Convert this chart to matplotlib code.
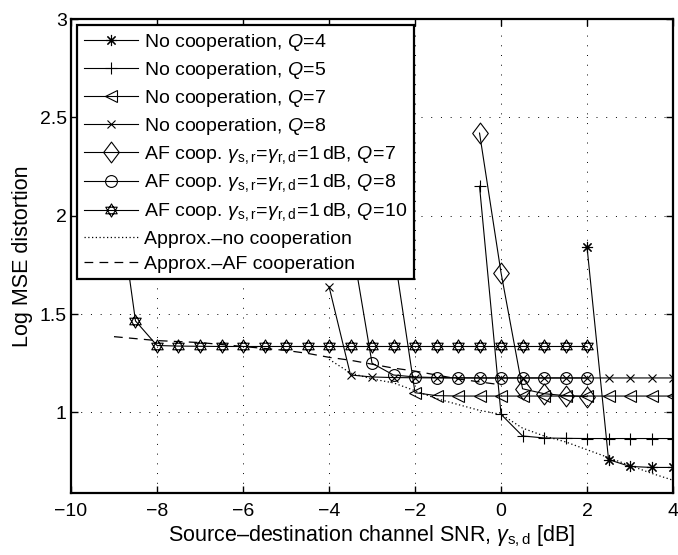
import matplotlib

matplotlib.use("Agg")
import matplotlib.pyplot as plt
from matplotlib.path import Path

plt.rcParams["font.family"] = ["Liberation Sans", "DejaVu Sans"]
plt.rcParams["mathtext.fontset"] = "custom"
plt.rcParams["mathtext.rm"] = "Liberation Sans"
plt.rcParams["mathtext.it"] = "Liberation Sans:italic"
plt.rcParams["mathtext.bf"] = "Liberation Sans:bold"

# --- data ---
x_q4 = [2, 2.5, 3, 3.5, 4]
y_q4 = [1.84, 0.76, 0.725, 0.72, 0.72]

x_q5 = [-0.5, 0, 0.5, 1, 1.5, 2, 2.5, 3, 3.5, 4]
y_q5 = [2.15, 0.99, 0.88, 0.87, 0.868, 0.867, 0.867, 0.867, 0.867, 0.867]

x_q7 = [-2.5, -2, -1.5, -1, -0.5, 0, 0.5, 1, 1.5, 2, 2.5, 3, 3.5, 4]
y_q7 = [1.83, 1.10, 1.085, 1.083, 1.083, 1.083, 1.083, 1.083, 1.083, 1.083,
        1.083, 1.083, 1.083, 1.083]

x_q8 = [-4, -3.5, -3, -2.5, -2, -1.5, -1, -0.5, 0, 0.5, 1, 1.5, 2, 2.5, 3, 3.5, 4]
y_q8 = [1.64, 1.19, 1.18, 1.177, 1.176, 1.175, 1.175, 1.175, 1.175, 1.175,
        1.175, 1.175, 1.175, 1.175, 1.175, 1.175, 1.175]

x_af7 = [-0.5, 0, 0.5, 1, 1.5, 2]
y_af7 = [2.42, 1.71, 1.12, 1.095, 1.085, 1.08]

x_af8 = [-3.5, -3, -2.5, -2, -1.5, -1, -0.5, 0, 0.5, 1, 1.5, 2]
y_af8 = [1.90, 1.25, 1.19, 1.18, 1.177, 1.176, 1.175, 1.175, 1.175, 1.175, 1.175, 1.175]

x_af10 = [-9, -8.5, -8, -7.5, -7, -6.5, -6, -5.5, -5, -4.5, -4, -3.5, -3,
          -2.5, -2, -1.5, -1, -0.5, 0, 0.5, 1, 1.5, 2]
y_af10 = [2.25, 1.465, 1.34, 1.337, 1.336, 1.335, 1.335, 1.335, 1.335, 1.335,
          1.335, 1.335, 1.335, 1.335, 1.335, 1.335, 1.335, 1.335, 1.335, 1.335,
          1.335, 1.335, 1.335]

x_apx_nc = [-4, -3.5, -3, -2.5, -2, -1.5, -1, -0.5, 0, 0.5, 1, 1.5, 2, 2.5, 3, 3.5, 4]
y_apx_nc = [1.27, 1.20, 1.17, 1.15, 1.11, 1.07, 1.04, 1.01, 0.99, 0.92, 0.88,
            0.85, 0.81, 0.77, 0.73, 0.69, 0.655]

x_apx_af = [-9, -8.5, -8, -7.5, -7, -6.5, -6, -5.5, -5, -4.5, -4, -3.5, -3,
            -2.5, -2, -1.5, -1, -0.5, 0]
y_apx_af = [1.385, 1.375, 1.365, 1.36, 1.355, 1.345, 1.335, 1.325, 1.315, 1.30,
            1.28, 1.265, 1.245, 1.225, 1.21, 1.19, 1.17, 1.155, 1.14]

labels = [
    r"No cooperation, $Q\!=\!4$",
    r"No cooperation, $Q\!=\!5$",
    r"No cooperation, $Q\!=\!7$",
    r"No cooperation, $Q\!=\!8$",
    r"AF coop. $\gamma_{\rm s,r}\!=\!\gamma_{\rm r,d}\!=\!1\,$dB, $Q\!=\!7$",
    r"AF coop. $\gamma_{\rm s,r}\!=\!\gamma_{\rm r,d}\!=\!1\,$dB, $Q\!=\!8$",
    r"AF coop. $\gamma_{\rm s,r}\!=\!\gamma_{\rm r,d}\!=\!1\,$dB, $Q\!=\!10$",
    "Approx.\u2013no cooperation",
    "Approx.\u2013AF cooperation",
]

# custom markers: star of David (two triangles) and MATLAB-like diamond
hexagram = Path(
    [(0, 1), (0.866, -0.5), (-0.866, -0.5), (0, 1),
     (0, -1), (0.866, 0.5), (-0.866, 0.5), (0, -1)],
    [Path.MOVETO, Path.LINETO, Path.LINETO, Path.CLOSEPOLY,
     Path.MOVETO, Path.LINETO, Path.LINETO, Path.CLOSEPOLY],
)
diamond = Path([(0, 1), (0.75, 0), (0, -1), (-0.75, 0), (0, 1)],
               [Path.MOVETO, Path.LINETO, Path.LINETO, Path.LINETO, Path.CLOSEPOLY])

fig = plt.figure(figsize=(6.78, 5.55), dpi=100)
ax = fig.add_axes([0.1047, 0.1117, 0.888, 0.854])

kw = dict(color="k", lw=0.8, mfc="none", mec="k", mew=0.8)
ax.plot(x_q4, y_q4, marker=(8, 2, 0), ms=8, label=labels[0], **kw)
ax.plot(x_q5, y_q5, marker="+", ms=8, label=labels[1], **kw)
ax.plot(x_q7, y_q7, marker="<", ms=9, label=labels[2], **kw)
ax.plot(x_q8, y_q8, marker="x", ms=5.5, label=labels[3], **kw)
ax.plot(x_af7, y_af7, marker=diamond, ms=15, label=labels[4], **kw)
ax.plot(x_af8, y_af8, marker="o", ms=8.5, label=labels[5], **kw)
ax.plot(x_af10, y_af10, marker=hexagram, ms=9.5, label=labels[6], **kw)
ax.plot(x_apx_nc, y_apx_nc, color="k", lw=0.9, ls=(0, (1, 2)), label=labels[7])
ax.plot(x_apx_af, y_apx_af, color="k", lw=0.9, ls=(0, (7, 5)), label=labels[8])

ax.set_xlim(-10, 4)
ax.set_ylim(0.59, 3)
ax.set_xticks([-10, -8, -6, -4, -2, 0, 2, 4])
ax.set_yticks([1, 1.5, 2, 2.5, 3])
ax.set_yticklabels(["1", "1.5", "2", "2.5", "3"])
ax.tick_params(direction="in", length=5, width=1, labelsize=14,
               top=True, right=True)
ax.tick_params(axis="x", pad=7)
ax.tick_params(axis="y", pad=3)
ax.grid(True, color="k", lw=0.7, ls=(0, (1, 9)))
for s in ax.spines.values():
    s.set_linewidth(1.6)

ax.set_xlabel("Source\u2013destination channel SNR, $\\gamma_{\\rm s,d}$ [dB]",
              fontsize=15.5, labelpad=3)
ax.set_ylabel("Log MSE distortion", fontsize=15.5, labelpad=5)

leg = ax.legend(loc="upper left", fontsize=14, handlelength=2.8,
                handletextpad=0.3, borderpad=0.35, labelspacing=0.36,
                borderaxespad=0.3, fancybox=False, framealpha=1)
leg.get_frame().set_edgecolor("k")
leg.get_frame().set_linewidth(1.6)

fig.savefig("out.png", dpi=100, facecolor="white")
